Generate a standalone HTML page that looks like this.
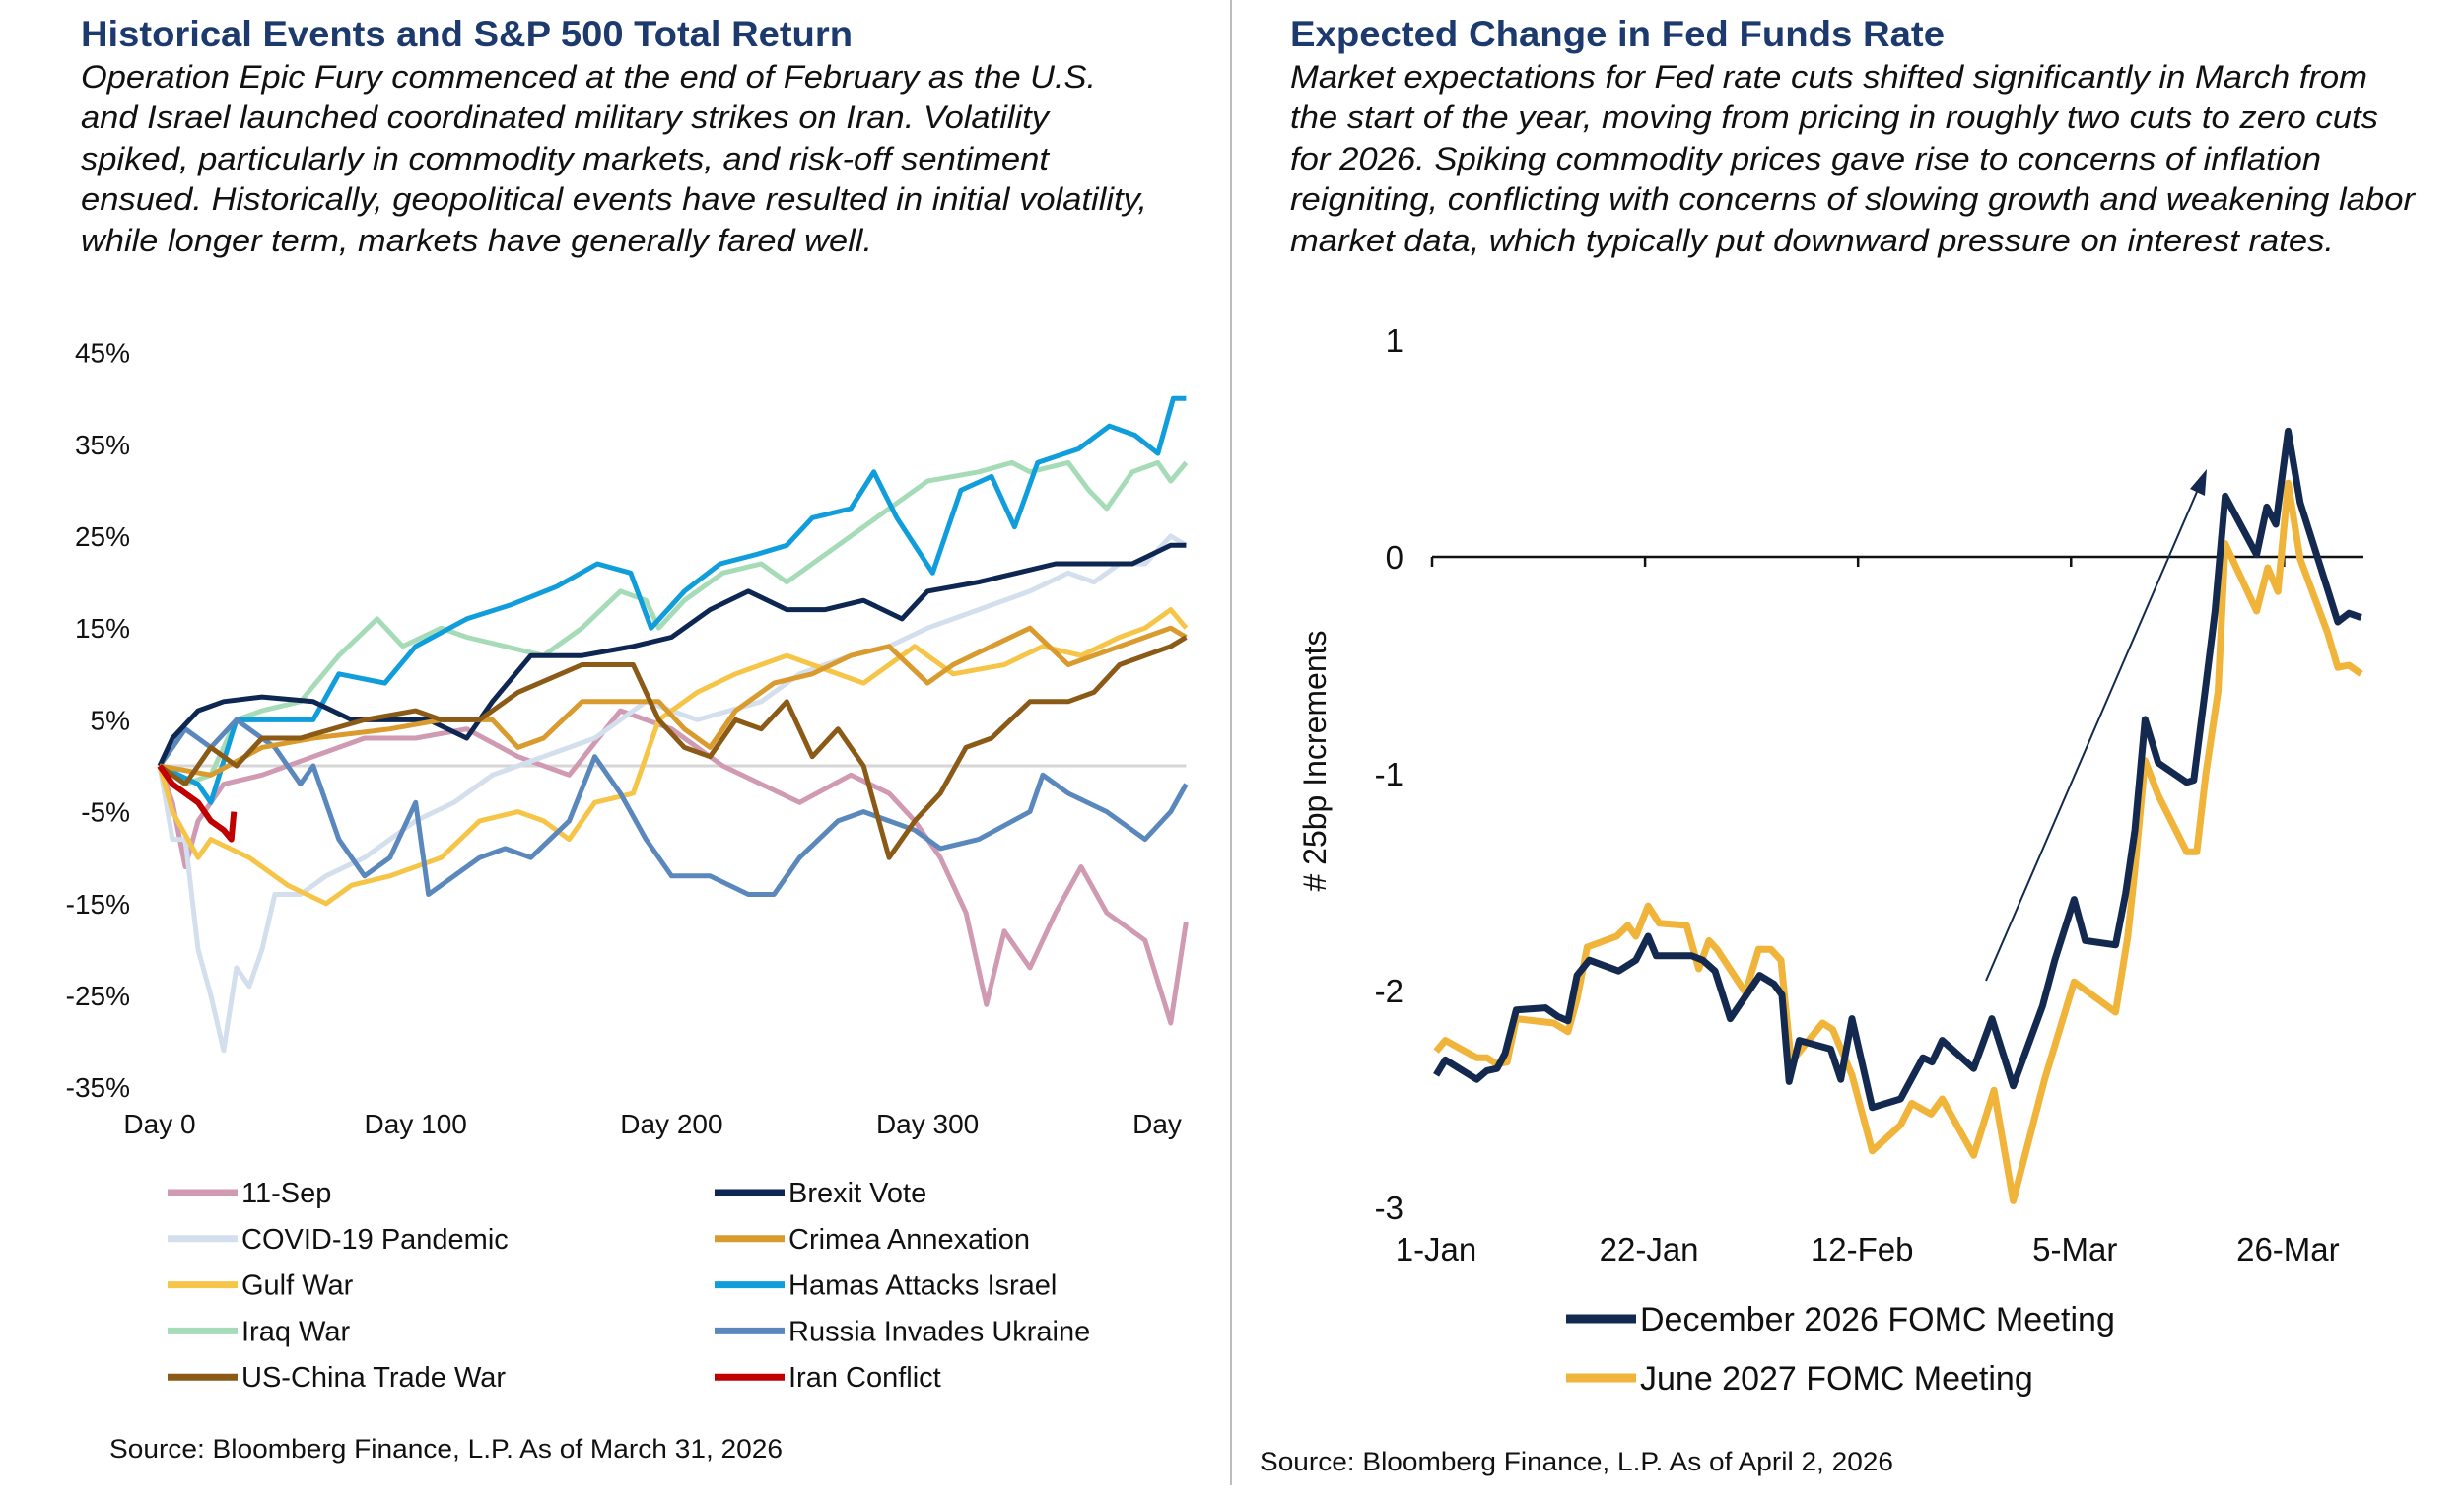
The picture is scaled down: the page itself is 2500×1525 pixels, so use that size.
<!DOCTYPE html>
<html><head><meta charset="utf-8"><style>
html,body{margin:0;padding:0;background:#fff;}
svg{display:block;font-family:"Liberation Sans",Arial,sans-serif;}
</style></head><body>
<svg id="root" width="2500" height="1525" viewBox="0 0 2500 1525" xmlns="http://www.w3.org/2000/svg">
<g>
<text x="82" y="47" font-size="37" font-weight="bold" fill="#1d3a6e" textLength="783" lengthAdjust="spacingAndGlyphs">Historical Events and S&amp;P 500 Total Return</text>
<g font-size="32" font-style="italic" fill="#111">
<text x="82" y="89" textLength="1030" lengthAdjust="spacingAndGlyphs">Operation Epic Fury commenced at the end of February as the U.S.</text>
<text x="82" y="130" textLength="982" lengthAdjust="spacingAndGlyphs">and Israel launched coordinated military strikes on Iran. Volatility</text>
<text x="82" y="172" textLength="982" lengthAdjust="spacingAndGlyphs">spiked, particularly in commodity markets, and risk-off sentiment</text>
<text x="82" y="213" textLength="1082" lengthAdjust="spacingAndGlyphs">ensued. Historically, geopolitical events have resulted in initial volatility,</text>
<text x="82" y="255" textLength="803" lengthAdjust="spacingAndGlyphs">while longer term, markets have generally fared well.</text>
</g></g>
<g>
<text x="1309" y="47" font-size="37" font-weight="bold" fill="#1d3a6e" textLength="664" lengthAdjust="spacingAndGlyphs">Expected Change in Fed Funds Rate</text>
<g font-size="32" font-style="italic" fill="#111">
<text x="1309" y="89" textLength="1093" lengthAdjust="spacingAndGlyphs">Market expectations for Fed rate cuts shifted significantly in March from</text>
<text x="1309" y="130" textLength="1104" lengthAdjust="spacingAndGlyphs">the start of the year, moving from pricing in roughly two cuts to zero cuts</text>
<text x="1309" y="172" textLength="1046" lengthAdjust="spacingAndGlyphs">for 2026. Spiking commodity prices gave rise to concerns of inflation</text>
<text x="1309" y="213" textLength="1141" lengthAdjust="spacingAndGlyphs">reigniting, conflicting with concerns of slowing growth and weakening labor</text>
<text x="1309" y="255" textLength="1059" lengthAdjust="spacingAndGlyphs">market data, which typically put downward pressure on interest rates.</text>
</g></g>
<line x1="1249" y1="0" x2="1249" y2="1507" stroke="#bdbdbd" stroke-width="2"/>
<g id="left"></g>
<g id="right"></g>
<text x="111" y="1479" font-size="27" fill="#111" textLength="683" lengthAdjust="spacingAndGlyphs">Source: Bloomberg Finance, L.P. As of March 31, 2026</text>
<text x="1278" y="1492" font-size="27" fill="#111" textLength="643" lengthAdjust="spacingAndGlyphs">Source: Bloomberg Finance, L.P. As of April 2, 2026</text>
</svg>
<script>
// ---- Left chart data (day, % return) ----
const leftNames = ["11-Sep","Brexit Vote","COVID-19 Pandemic","Crimea Annexation","Gulf War","Hamas Attacks Israel","Iraq War","Russia Invades Ukraine","US-China Trade War","Iran Conflict"];
const leftColors = ["#cf9ab2","#0d2752","#d3dfec","#d99a2e","#f6c548","#0f9ddb","#a6dbb7","#5a88bd","#8a5a16","#c00000"];
const yTicks = [45,35,25,15,5,-5,-15,-25,-35];
const xTickDays = [0,100,200,300,400];
const xTickLabels = ["Day 0","Day 100","Day 200","Day 300","Day"];
const sep11 = [[0,0],[5,-4],[10,-11],[15,-6],[25,-2],[40,-1],[60,1],[80,3],[100,3],[120,4],[140,1],[160,-1],[180,6],[200,4],[220,0],[235,-2],[250,-4],[270,-1],[285,-3],[295,-6],[305,-10],[315,-16],[323,-26],[330,-18],[340,-22],[350,-16],[360,-11],[370,-16],[385,-19],[395,-28],[401,-17]];
const covid = [[0,0],[5,-8],[10,-8],[15,-20],[20,-25],[25,-31],[30,-22],[35,-24],[40,-20],[45,-14],[55,-14],[65,-12],[80,-10],[100,-6],[115,-4],[130,-1],[150,1],[170,3],[190,7],[200,6],[210,5],[235,7],[250,10],[270,12],[285,13],[300,15],[320,17],[340,19],[355,21],[365,20],[375,22],[385,22],[395,25],[401,24]];
const gulf = [[0,0],[5,-5],[15,-10],[20,-8],[35,-10],[50,-13],[65,-15],[75,-13],[90,-12],[110,-10],[125,-6],[140,-5],[150,-6],[160,-8],[170,-4],[185,-3],[195,5],[210,8],[225,10],[245,12],[255,11],[275,9],[295,13],[310,10],[330,11],[345,13],[360,12],[375,14],[385,15],[395,17],[401,15]];
const iraq = [[0,0],[10,-2],[20,-1],[30,5],[40,6],[55,7],[70,12],[85,16],[95,13],[110,15],[120,14],[135,13],[150,12],[165,15],[180,19],[190,18],[195,15],[205,18],[220,21],[235,22],[245,20],[260,23],[275,26],[285,28],[300,31],[320,32],[333,33],[340,32],[355,33],[363,30],[370,28],[380,32],[390,33],[395,31],[401,33]];
const usChina = [[0,0],[10,-2],[20,2],[30,0],[40,3],[55,3],[80,5],[100,6],[110,5],[125,5],[140,8],[165,11],[185,11],[195,5],[205,2],[215,1],[225,5],[235,4],[245,7],[255,1],[265,4],[275,0],[285,-10],[295,-6],[305,-3],[315,2],[325,3],[340,7],[355,7],[365,8],[375,11],[385,12],[395,13],[401,14]];
const brexit = [[0,0],[5,3],[15,6],[25,7],[40,7.5],[60,7],[75,5],[90,5],[105,5],[120,3],[130,7],[145,12],[165,12],[185,13],[200,14],[215,17],[230,19],[245,17],[260,17],[275,18],[290,16],[300,19],[320,20],[335,21],[350,22],[365,22],[380,22],[395,24],[401,24]];
const crimea = [[0,0],[20,-1],[40,2],[60,3],[90,4],[110,5],[130,5],[140,2],[150,3],[165,7],[180,7],[195,7],[205,4],[215,2],[225,6],[240,9],[255,10],[270,12],[285,13],[300,9],[310,11],[325,13],[340,15],[355,11],[365,12],[375,13],[385,14],[395,15],[401,14]];
const hamas = [[0,0],[15,-2],[20,-4],[30,5],[60,5],[70,10],[88,9],[100,13],[120,16],[137,17.5],[155,19.5],[171,22],[184,21],[192,15],[205,19],[219,22],[233,23],[245,24],[255,27],[270,28],[279,32],[288,27],[302,21],[313,30],[325,31.5],[334,26],[343,33],[359,34.5],[371,37],[381,36],[390,34],[396,40],[401,40]];
const russia = [[0,0],[10,4],[20,2],[30,5],[45,2],[55,-2],[60,0],[70,-8],[80,-12],[90,-10],[100,-4],[105,-14],[115,-12],[125,-10],[135,-9],[145,-10],[160,-6],[170,1],[180,-3],[190,-8],[200,-12],[215,-12],[230,-14],[240,-14],[250,-10],[265,-6],[275,-5],[285,-6],[295,-7],[305,-9],[320,-8],[340,-5],[345,-1],[355,-3],[370,-5],[385,-8],[395,-5],[401,-2]];
const iran = [[0,0],[5,-2],[10,-3],[15,-4],[20,-6],[25,-7],[28,-8],[29,-5]];
// draw order: back to front
const drawOrder = [
 ["11-Sep",sep11],["COVID-19 Pandemic",covid],["Gulf War",gulf],["Iraq War",iraq],["Hamas Attacks Israel",hamas],
 ["Russia Invades Ukraine",russia],["Brexit Vote",brexit],["Crimea Annexation",crimea],["US-China Trade War",usChina],["Iran Conflict",iran]];

// ---- Right chart data (day since Jan 1, # of 25bp moves) ----
const rTicksY = [1,0,-1,-2,-3];
const rTickDays = [0,21,42,63,84];
const rTickLabels = ["1-Jan","22-Jan","12-Feb","5-Mar","26-Mar"];
const decDays = [0.4,1.3,4.4,5.4,6.4,7.2,8.3,11.2,12.4,13.4,14.3,15.5,18.4,20.1,21.3,22.1,25.6,26.7,27.9,29.4,32.3,33.7,34.5,35.2,36.2,39.3,40.3,41.4,43.4,46.2,48.4,49.3,50.3,53.4,55.2,57.3,60.2,61.4,63.3,64.4,67.4,68.4,69.3,70.3,71.6,74.4,75.1,76.3,77.2,78.2,81.3,82.3,83.2,84.4,85.6,88.3,89.3,90.4,91.6];
const decVals = [-2.39,-2.32,-2.41,-2.37,-2.36,-2.29,-2.09,-2.08,-2.12,-2.14,-1.93,-1.86,-1.91,-1.86,-1.75,-1.84,-1.84,-1.86,-1.91,-2.13,-1.93,-1.97,-2.02,-2.42,-2.23,-2.27,-2.41,-2.13,-2.54,-2.5,-2.31,-2.33,-2.23,-2.36,-2.13,-2.44,-2.07,-1.86,-1.58,-1.77,-1.79,-1.55,-1.26,-0.75,-0.95,-1.04,-1.03,-0.59,-0.25,0.28,0.01,0.23,0.15,0.58,0.25,-0.15,-0.30,-0.26,-0.28];
const junDays = [0.4,1.3,4.4,5.4,6.4,7.4,8.3,12,13.4,14.3,15.3,18.2,19.3,20.1,21.3,22.4,25.1,26.3,27.3,28.1,30.9,32.2,33.4,34.4,35.4,38.5,39.5,41.4,43.4,46.2,47.3,49.2,50.3,53.4,55.4,57.3,60.4,63.3,67.4,68.6,69.3,70.3,71.6,74.4,75.4,76.3,77.5,78.2,81.3,82.4,83.4,84.4,85.6,88.3,89.3,90.4,91.6];
const junVals = [-2.28,-2.23,-2.31,-2.31,-2.34,-2.33,-2.13,-2.15,-2.19,-2.04,-1.80,-1.75,-1.70,-1.75,-1.61,-1.69,-1.70,-1.90,-1.77,-1.81,-2.01,-1.81,-1.81,-1.86,-2.33,-2.15,-2.18,-2.39,-2.74,-2.62,-2.52,-2.57,-2.50,-2.76,-2.46,-2.97,-2.41,-1.96,-2.10,-1.75,-1.44,-0.94,-1.10,-1.36,-1.36,-1.00,-0.62,0.06,-0.25,-0.05,-0.16,0.34,-0.01,-0.35,-0.51,-0.50,-0.54];
const rNames = ["December 2026 FOMC Meeting","June 2027 FOMC Meeting"];
const rColors = ["#13294f","#f0b43a"];

const NS="http://www.w3.org/2000/svg";
function mk(tag, attrs, parent){const e=document.createElementNS(NS,tag);for(const k in attrs)e.setAttribute(k,attrs[k]);parent.appendChild(e);return e;}

// ===== Left chart =====
const L=document.getElementById('left');
const lx = d => 162 + d*2.597;
const ly = v => 777 - v*9.32;
mk('line',{x1:lx(0),x2:lx(401),y1:ly(0),y2:ly(0),stroke:'#d6d6d6','stroke-width':3},L);
yTicks.forEach(t=>{
  const e=mk('text',{x:132,y:ly(t)+10,'font-size':28,'text-anchor':'end',fill:'#111'},L);
  e.textContent=t+'%';
  
  
});
xTickDays.forEach((d,i)=>{
  const e=mk('text',{x:i==4?1174:lx(d),y:1150,'font-size':28,'text-anchor':'middle',fill:'#111'},L);
  e.textContent=xTickLabels[i];
  
  
});
drawOrder.forEach(([name,pts])=>{
  const c=leftColors[leftNames.indexOf(name)];
  const p=mk('polyline',{points:pts.map(q=>lx(q[0]).toFixed(1)+','+ly(q[1]).toFixed(1)).join(' '),fill:'none',stroke:c,'stroke-width':name=="Iran Conflict"?6:5,'stroke-linejoin':'round'},L);
  
  
});
const legOrder=["11-Sep","Brexit Vote","COVID-19 Pandemic","Crimea Annexation","Gulf War","Hamas Attacks Israel","Iraq War","Russia Invades Ukraine","US-China Trade War","Iran Conflict"];
legOrder.forEach((n,i)=>{
  const col=i%2,row=Math.floor(i/2);
  const x0=col?725:170,y=1210+row*46.8;
  const g=mk('g',{},L);
  
  
  mk('line',{x1:x0,x2:x0+71,y1:y,y2:y,stroke:leftColors[leftNames.indexOf(n)],'stroke-width':7},g);
  const t=mk('text',{x:x0+75,y:y+10,'font-size':29,fill:'#111'},g);
  t.textContent=n;
});

// ===== Right chart =====
const R=document.getElementById('right');
const rx = d => 1453 + d*10.29;
const ry = v => 565 - v*220;
mk('line',{x1:rx(0),x2:2398,y1:ry(0),y2:ry(0),stroke:'#111','stroke-width':2.5},R);
rTickDays.forEach((d,i)=>{
  const tk=mk('line',{x1:rx(d),x2:rx(d),y1:ry(0),y2:ry(0)+10,stroke:'#111','stroke-width':2.5},R);
  
  const e=mk('text',{x:rx(d)+4,y:1279,'font-size':33,'text-anchor':'middle',fill:'#111'},R);
  e.textContent=rTickLabels[i];
  
  
});
rTicksY.forEach(t=>{
  const e=mk('text',{x:1424,y:ry(t)+12,'font-size':33,'text-anchor':'end',fill:'#111'},R);
  e.textContent=t;
  
  
});
const yt=mk('text',{x:0,y:0,'font-size':32,'text-anchor':'middle',fill:'#111',transform:'translate(1345,772) rotate(-90)'},R);
yt.textContent='# 25bp Increments';


// arrow annotation
const ar=mk('line',{x1:2015,y1:995,x2:2232,y2:492,stroke:'#13294f','stroke-width':2},R);


mk('polygon',{points:'2239,476 2237,503 2222,496',fill:'#13294f'},R);
[[junDays,junVals,1],[decDays,decVals,0]].forEach(([ds,vs,k])=>{
  const p=mk('polyline',{points:ds.map((d,i)=>rx(d).toFixed(1)+','+ry(vs[i]).toFixed(1)).join(' '),fill:'none',stroke:rColors[k],'stroke-width':7,'stroke-linejoin':'round'},R);
  
  
});
rNames.forEach((n,i)=>{
  const y=1338+i*60;
  const g=mk('g',{},R);
  
  
  mk('line',{x1:1589,x2:1660,y1:y,y2:y,stroke:rColors[i],'stroke-width':9},g);
  const t=mk('text',{x:1664,y:y+12,'font-size':34,fill:'#111'},g);
  t.textContent=n;
});
</script>
</body></html>
